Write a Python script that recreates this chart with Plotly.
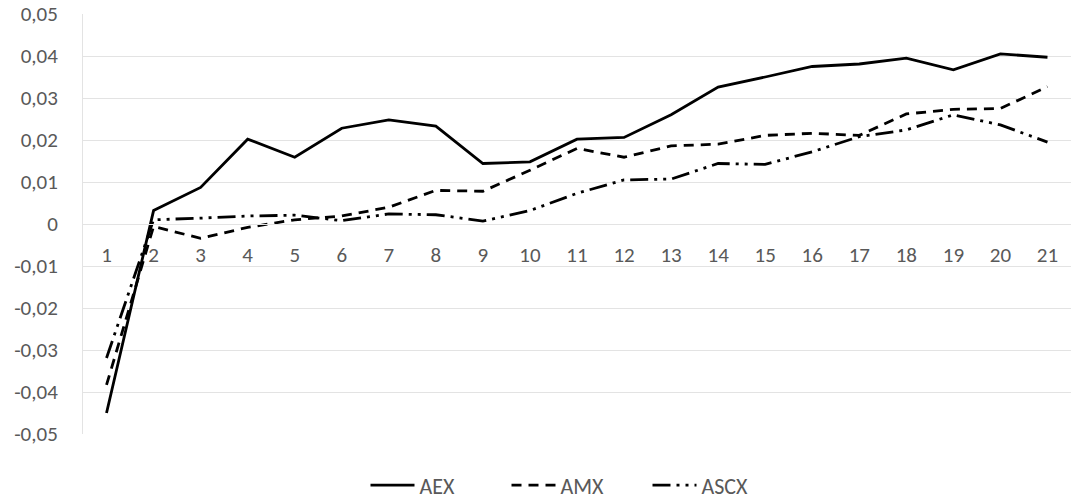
import plotly.graph_objects as go

# Daily index series (cumulative values) for three Amsterdam indices
days = list(range(1, 22))
aex = [-0.0450, 0.0032, 0.0087, 0.0202, 0.0159, 0.0228, 0.0248, 0.0233, 0.0144, 0.0148,
       0.0202, 0.0206, 0.0260, 0.0326, 0.0350, 0.0375, 0.0381, 0.0395, 0.0367, 0.0405, 0.0397]
amx = [-0.0383, -0.0006, -0.0034, -0.0008, 0.0010, 0.0019, 0.0040, 0.0080, 0.0078, 0.0128,
       0.0180, 0.0159, 0.0186, 0.0190, 0.0211, 0.0216, 0.0211, 0.0262, 0.0273, 0.0275, 0.0327]
ascx = [-0.0319, 0.0010, 0.0014, 0.0019, 0.0021, 0.0008, 0.0024, 0.0022, 0.0007, 0.0032,
        0.0073, 0.0105, 0.0107, 0.0144, 0.0142, 0.0172, 0.0208, 0.0224, 0.0260, 0.0236, 0.0195]

y_ticks = [-0.05, -0.04, -0.03, -0.02, -0.01, 0, 0.01, 0.02, 0.03, 0.04, 0.05]
y_tick_text = ["-0,05", "-0,04", "-0,03", "-0,02", "-0,01", "0",
               "0,01", "0,02", "0,03", "0,04", "0,05"]

FONT = "Calibri, Carlito, Lato, sans-serif"
GREY = "#595959"
GRID = "#e3e3e3"
FS = 21

fig = go.Figure()
fig.add_trace(go.Scatter(x=days, y=aex, name="AEX", mode="lines",
                         line=dict(color="black", width=2.8)))
fig.add_trace(go.Scatter(x=days, y=amx, name="AMX", mode="lines",
                         line=dict(color="black", width=2.8, dash="10px,7px")))
fig.add_trace(go.Scatter(x=days, y=ascx, name="ASCX", mode="lines",
                         line=dict(color="black", width=2.8,
                                   dash="18px,6px,3px,6px,3px,6px")))

fig.update_layout(
    width=1071, height=499,
    margin=dict(l=83, r=0, t=14, b=65, autoexpand=False),
    paper_bgcolor="white", plot_bgcolor="white",
    font=dict(family=FONT, size=FS, color=GREY),
    showlegend=True,
    legend=dict(orientation="h", x=0.5, xanchor="center", xref="paper",
                y=-0.072, yanchor="top", font=dict(size=22, color=GREY),
                itemwidth=44, entrywidth=82, traceorder="normal"),
    xaxis=dict(
        range=[0.5, 21.5], tickmode="array", tickvals=days,
        ticktext=[str(d) for d in days],
        anchor="free", position=0.5, side="bottom",
        showgrid=False, zeroline=False, showline=True,
        linecolor=GRID, linewidth=1, ticks="",
        ticklabelstandoff=12, tickfont=dict(size=FS, color=GREY),
    ),
    yaxis=dict(
        range=[-0.05, 0.05], tickmode="array", tickvals=y_ticks,
        ticktext=y_tick_text, showgrid=True, gridcolor=GRID, gridwidth=1,
        zeroline=False, showline=True, linecolor=GRID, linewidth=1,
        ticks="", ticklabelstandoff=20, tickfont=dict(size=FS, color=GREY),
    ),
)

fig.write_html("out.html")
